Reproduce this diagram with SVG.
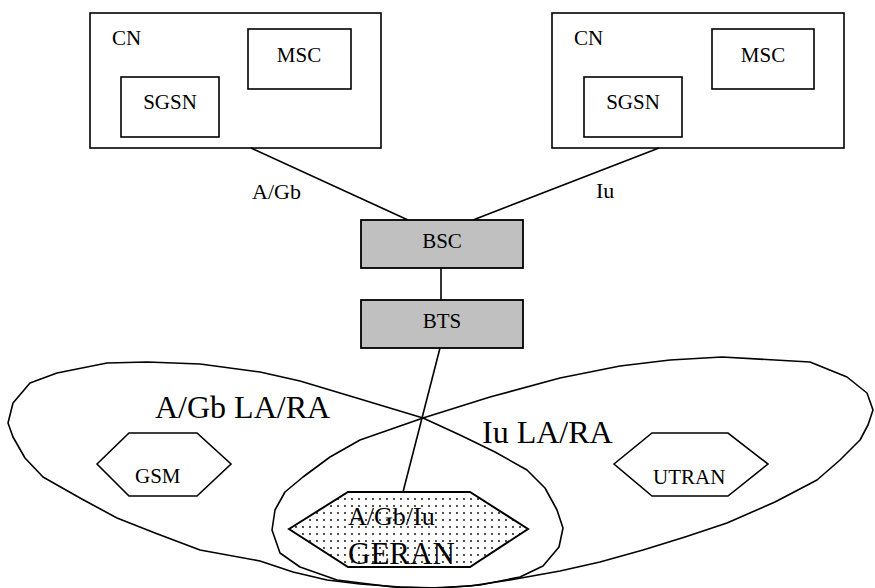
<svg xmlns="http://www.w3.org/2000/svg" width="875" height="588" viewBox="0 0 875 588">
<style>
text{font-family:"Liberation Serif","Times New Roman",serif;fill:#000}
.box{fill:#fff;stroke:#000;stroke-width:1.6}
.grey{fill:#c0c0c0;stroke:#000;stroke-width:1.8}
.ln{fill:none;stroke:#000;stroke-width:1.6}
.area{fill:none;stroke:#000;stroke-width:1.6;stroke-linejoin:round}
.hex{fill:#fff;stroke:#000;stroke-width:1.6}
.s21{font-size:21px}
.mid{text-anchor:middle}
</style>
<defs>
<pattern id="dots" width="7" height="7" patternUnits="userSpaceOnUse">
<rect width="7" height="7" fill="#fff"/>
<circle cx="2" cy="2" r="0.9" fill="#000"/>
</pattern>
</defs>
<g id="areas">
<polygon id="area-agb" class="area" points="423,418 460,435 495,452 527,470 545,488 557,510 563,528 559,547 543,566 520,577 480,585 440,588 400,587 360,584 327,580 293,572 260,561 200,550 155,533 117,518 80,498 43,477 25,458 13,437 8,423 13,403 30,383 57,373 107,363 147,362 200,364 260,372 300,381 360,399"/>
<polygon id="area-iu" class="area" points="722,357 810,362 847,377 867,393 873,410 868,425 860,440 840,460 817,480 775,502 727,523 685,537 643,550 600,562 560,571 510,580 470,586 430,588 393,587 337,580 300,567 280,553 272,530 275,510 285,492 303,477 330,457 360,440 423,418 490,397 560,378 620,366 670,360"/>
<text x="155" y="418" style="font-size:32px">A/Gb LA/RA</text>
<text x="482" y="443" style="font-size:32px">Iu LA/RA</text>
</g>
<g id="cn-left">
<rect class="box" x="90" y="13" width="291" height="135"/>
<text class="s21" x="112" y="45">CN</text>
</g>
<g id="msc-left">
<rect class="box" x="248" y="29" width="103" height="60"/>
<text class="s21 mid" x="299" y="62">MSC</text>
</g>
<g id="sgsn-left">
<rect class="box" x="121" y="77" width="98" height="60"/>
<text class="s21 mid" x="170" y="109">SGSN</text>
</g>
<g id="cn-right">
<rect class="box" x="552" y="13" width="292" height="135"/>
<text class="s21" x="574" y="45">CN</text>
</g>
<g id="msc-right">
<rect class="box" x="712" y="29" width="102" height="60"/>
<text class="s21 mid" x="763" y="62">MSC</text>
</g>
<g id="sgsn-right">
<rect class="box" x="584" y="77" width="98" height="60"/>
<text class="s21 mid" x="633" y="109">SGSN</text>
</g>
<g id="connectors">
<line class="ln" x1="251" y1="148" x2="408" y2="220"/>
<line class="ln" x1="659" y1="148" x2="473" y2="220"/>
<line class="ln" x1="441" y1="268" x2="441" y2="300"/>
<line class="ln" x1="440" y1="348" x2="403" y2="492"/>
<text x="252" y="199" style="font-size:22px">A/Gb</text>
<text x="596" y="198" style="font-size:22px">Iu</text>
</g>
<g id="bsc">
<rect class="grey" x="361" y="220" width="162" height="48"/>
<text class="s21 mid" x="442" y="248">BSC</text>
</g>
<g id="bts">
<rect class="grey" x="361" y="300" width="162" height="48"/>
<text class="s21 mid" x="442" y="328">BTS</text>
</g>
<g id="gsm">
<polygon class="hex" points="97,464 129,433 197,433 231,464 197,496 129,496"/>
<text class="s21" x="135" y="483">GSM</text>
</g>
<g id="utran">
<polygon class="hex" points="614,464 652,433 728,433 768,464 728,496 652,496"/>
<text class="s21" x="653" y="484">UTRAN</text>
</g>
<g id="geran">
<polygon points="289,529 348,492 470,492 528,529 470,567 348,567" fill="url(#dots)" stroke="#000" stroke-width="2"/>
<text x="348" y="525" style="font-size:26px">A/Gb/Iu</text>
<text x="348" y="564" style="font-size:31px">GERAN</text>
</g>
</svg>
